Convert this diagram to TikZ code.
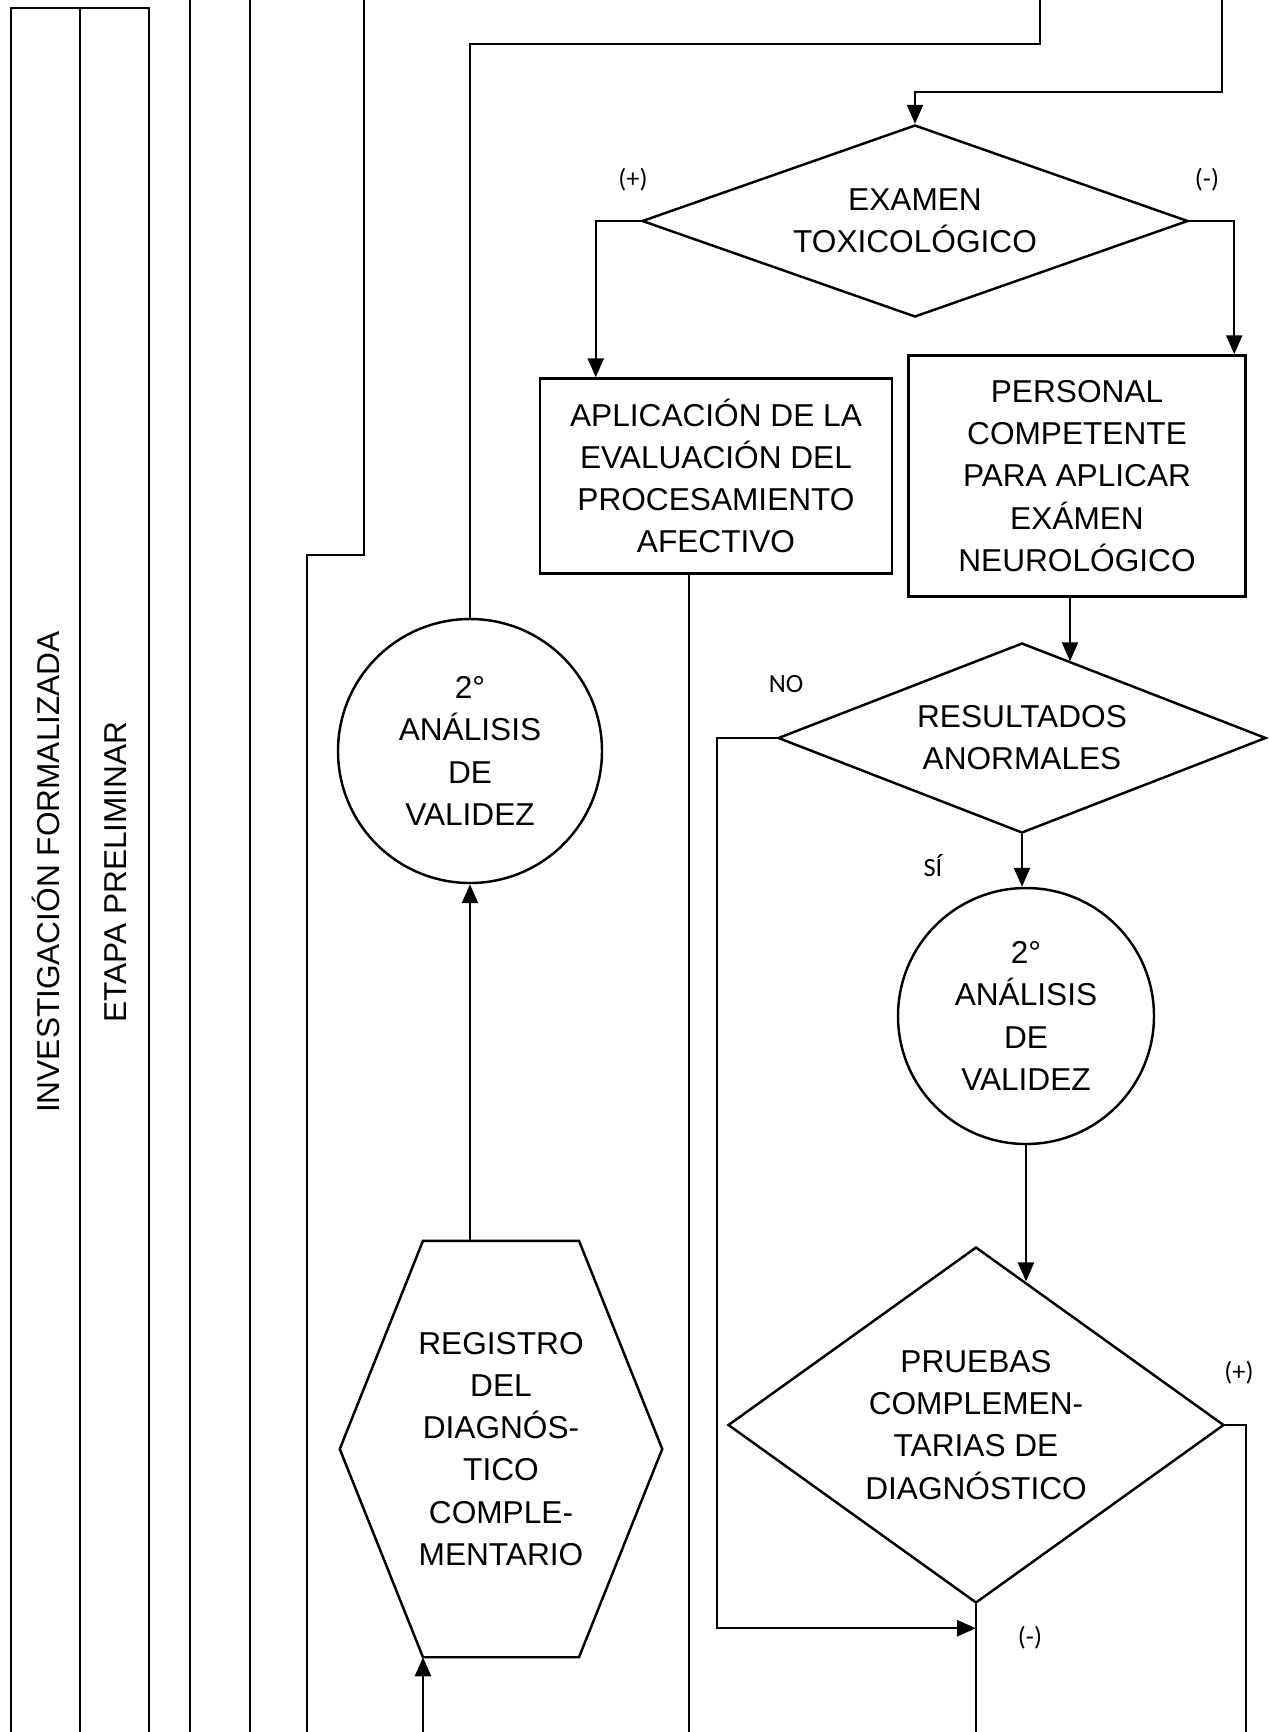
\documentclass[tikz,border=0pt]{standalone}
\usepackage{fontspec}
\setmainfont{Liberation Sans}
\newfontfamily\calibrifont{Carlito}
\usetikzlibrary{shapes.geometric,arrows.meta}

\begin{document}
\begin{tikzpicture}[
            x=0.2mm, y=-0.2mm,
            line width=1.4pt,
            box/.style={rectangle, draw, align=center, inner sep=0pt, font=\fontsize{18}{24}\selectfont},
            decision/.style={diamond, draw, align=center, inner sep=0pt, font=\fontsize{18}{24}\selectfont},
            validity/.style={circle, draw, align=center, inner sep=0pt, font=\fontsize{18}{24}\selectfont},
            hexa/.style={rectangle, align=center, inner sep=0pt, minimum width=64mm, minimum height=82.8mm, font=\fontsize{18}{24}\selectfont},
            lane/.style={rotate=90, font=\fontsize{18}{24}\selectfont},
            arrow/.style={-{Triangle[length=3.8mm, width=3.2mm]}},
            sign/.style={font=\calibrifont\fontsize{15}{18}\selectfont},
            answer/.style={font=\calibrifont\fontsize{15}{18}\selectfont}
            ]
            \useasboundingbox (0,0) rectangle (1270,1732);

            % Lanes
            \draw (11,1732) -- (11,8) -- (149,8) -- (149,1732);
            \draw (80,8) -- (80,1732);
            \draw (190,0) -- (190,1732);
            \draw (250,0) -- (250,1732);
            \draw (364,0) -- (364,555) -- (307,555) -- (307,1732);
            \node[lane] (investigacion) at (46,872) {INVESTIGACIÓN FORMALIZADA};
            \node[lane] (etapa) at (116,872) {ETAPA PRELIMINAR};

            % Steps
            \node[decision, minimum width=109.2mm, minimum height=38.4mm, aspect=2.84] (toxico) at (915,221) {EXAMEN\\TOXICOLÓGICO};
            \node[box, minimum width=70.4mm, minimum height=39mm] (afectivo) at (716,476) {APLICACIÓN DE LA\\EVALUACIÓN DEL\\PROCESAMIENTO\\AFECTIVO};
            \node[box, minimum width=67.4mm, minimum height=48.2mm] (competente) at (1077,476) {PERSONAL\\COMPETENTE\\PARA APLICAR\\EXÁMEN\\NEUROLÓGICO};
            \node[decision, minimum width=97.6mm, minimum height=38mm, aspect=2.57] (anormales) at (1022,738) {RESULTADOS\\ANORMALES};
            \node[validity, minimum size=51.2mm] (validezB) at (1026,1016) {2°\\ANÁLISIS\\DE\\VALIDEZ};
            \node[decision, minimum width=99.2mm, minimum height=71.2mm, aspect=1.39] (pruebas) at (976,1425) {PRUEBAS\\COMPLEMEN-\\TARIAS DE\\DIAGNÓSTICO};
            \node[validity, minimum size=52.8mm] (validezA) at (470,751) {2°\\ANÁLISIS\\DE\\VALIDEZ};
            \node[hexa] (registro) at (501,1449) {REGISTRO\\DEL\\DIAGNÓS-\\TICO\\COMPLE-\\MENTARIO};
            \draw (registro.west) -- ([xshift=-15.6mm]registro.north) -- ([xshift=15.6mm]registro.north)
                -- (registro.east) -- ([xshift=15.6mm]registro.south) -- ([xshift=-15.6mm]registro.south) -- cycle;

            % Ends of the page
            \coordinate (topA) at (1040,0);
            \coordinate (topB) at (1222,0);
            \coordinate (outAfectivo) at (689,1732);
            \coordinate (inRegistro) at (423,1732);
            \coordinate[xshift=-1.4mm] (neuroOut) at (competente.south);
            \path (pruebas.south) ++(0,24) coordinate (junta);

            % Connectors
            \draw (topA) -- ++(0,44) -| (validezA.north);
            \draw[arrow] (topB) -- ++(0,92) -| (toxico.north);
            \draw[arrow] (toxico.west) -- ++(-45,0) coordinate (plusTurn) -- (plusTurn |- afectivo.north);
            \draw[arrow] (toxico.east) -- ++(45,0) coordinate (minusTurn) -- (minusTurn |- competente.north);
            \draw (afectivo.south -| outAfectivo) -- (outAfectivo);
            \draw[arrow] (neuroOut) -- (neuroOut |- anormales.57);
            \draw[arrow] (anormales.south) -- (anormales.south |- validezB.north);
            \draw[arrow] (validezB.south) -- (validezB.south |- pruebas.71);
            \draw[arrow] (anormales.west) -- ++(-60,0) |- (junta);
            \draw (pruebas.south) -- (pruebas.south |- outAfectivo);
            \draw (pruebas.east) -- ++(21,0) coordinate (plusTurnB) -- (plusTurnB |- outAfectivo);
            \draw[arrow] (validezA.south |- registro.north) -- (validezA.south);
            \draw[arrow] (inRegistro) -- (inRegistro |- registro.south);

            % Labels
            \node[sign] (plusA) at (633,180) {(+)};
            \node[sign] (minusA) at (1207,180) {(-)};
            \node[answer] (no) at (786,684) {NO};
            \node[answer] (si) at (933,866) {SÍ};
            \node[sign] (plusB) at (1239,1373) {(+)};
            \node[sign] (minusB) at (1030,1638) {(-)};

        \end{tikzpicture}
\end{document}
